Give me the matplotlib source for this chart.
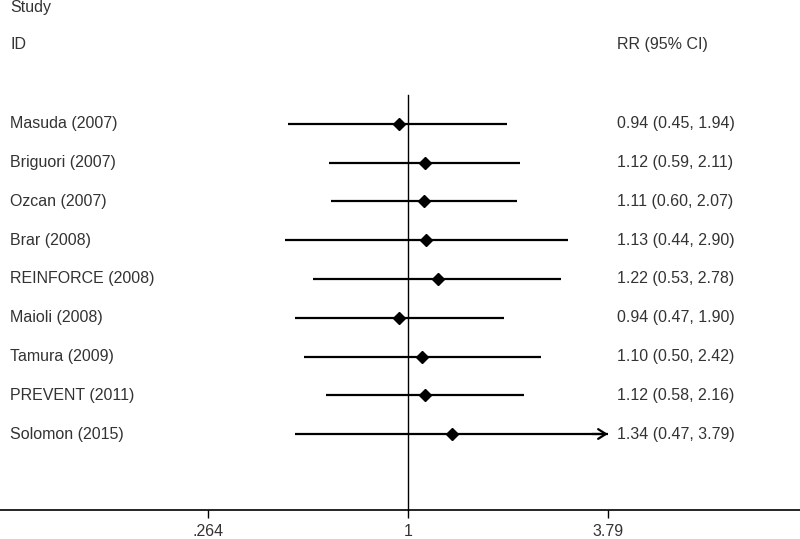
import numpy as np
import matplotlib
matplotlib.use("Agg")
import matplotlib.pyplot as plt

studies = ["Masuda (2007)", "Briguori (2007)", "Ozcan (2007)", "Brar (2008)",
           "REINFORCE (2008)", "Maioli (2008)", "Tamura (2009)", "PREVENT (2011)",
           "Solomon (2015)"]
rr = [0.94, 1.12, 1.11, 1.13, 1.22, 0.94, 1.10, 1.12, 1.34]
lo = [0.45, 0.59, 0.60, 0.44, 0.53, 0.47, 0.50, 0.58, 0.47]
hi = [1.94, 2.11, 2.07, 2.90, 2.78, 1.90, 2.42, 2.16, 3.79]
xticks = [0.264, 1, 3.79]
xticklabels = [".264", "1", "3.79"]

plt.rcParams['font.family'] = ['Liberation Sans', 'DejaVu Sans']
txt_color = '#333333'
fs = 11.5

fig = plt.figure(figsize=(8, 5.39), dpi=100)
H = 539.0
ax_bottom_px = 510.0
ax = fig.add_axes([0, (H - ax_bottom_px) / H, 1, ax_bottom_px / H])

ax.set_xscale('log')
# pixel 408 -> 1, 150 px per ln unit
xmin = np.exp(-408 / 150.0)
xmax = np.exp((800 - 408) / 150.0)
ax.set_xlim(xmin, xmax)

row0 = 124.0
step = 38.75
ax.set_ylim((ax_bottom_px - row0) / step, -row0 / step)

def py(p):
    return (p - row0) / step

n = len(studies)
ys = np.arange(n)
rr_x = 617 / 800.0
for i in range(n):
    y = ys[i]
    ax.plot([lo[i], hi[i]], [y, y], color='black', lw=1.6, solid_capstyle='butt')
    if i == n - 1:
        ax.annotate('', xy=(hi[i], y), xytext=(hi[i] * 0.9, y),
                    arrowprops=dict(arrowstyle='->,head_length=0.55,head_width=0.35',
                                    color='black', lw=1.6, shrinkA=0, shrinkB=0))
    ax.plot(rr[i], y, marker='D', color='black', markersize=6.5, zorder=3)
    ax.text(0.0125, y, studies[i], transform=ax.get_yaxis_transform(),
            ha='left', va='center', fontsize=fs, color=txt_color)
    ax.text(rr_x, y, f"{rr[i]:.2f} ({lo[i]:.2f}, {hi[i]:.2f})",
            transform=ax.get_yaxis_transform(), ha='left', va='center',
            fontsize=fs, color=txt_color)

ax.plot([1, 1], [py(95), py(ax_bottom_px)], color='black', lw=1.0, clip_on=False)

ax.text(0.0125, py(8), "Study", transform=ax.get_yaxis_transform(),
        ha='left', va='center', fontsize=fs, color=txt_color)
ax.text(0.0125, py(45), "ID", transform=ax.get_yaxis_transform(),
        ha='left', va='center', fontsize=fs, color=txt_color)
ax.text(rr_x, py(45), "RR (95% CI)", transform=ax.get_yaxis_transform(),
        ha='left', va='center', fontsize=fs, color=txt_color)

for s in ['top', 'right', 'left']:
    ax.spines[s].set_visible(False)
ax.spines['bottom'].set_linewidth(1.2)
ax.set_yticks([])
ax.set_xticks(xticks)
ax.set_xticklabels(xticklabels, fontsize=fs, color=txt_color)
ax.xaxis.set_minor_locator(matplotlib.ticker.NullLocator())
ax.tick_params(axis='x', length=6, width=1, pad=4)

fig.savefig("out.png", dpi=100)
